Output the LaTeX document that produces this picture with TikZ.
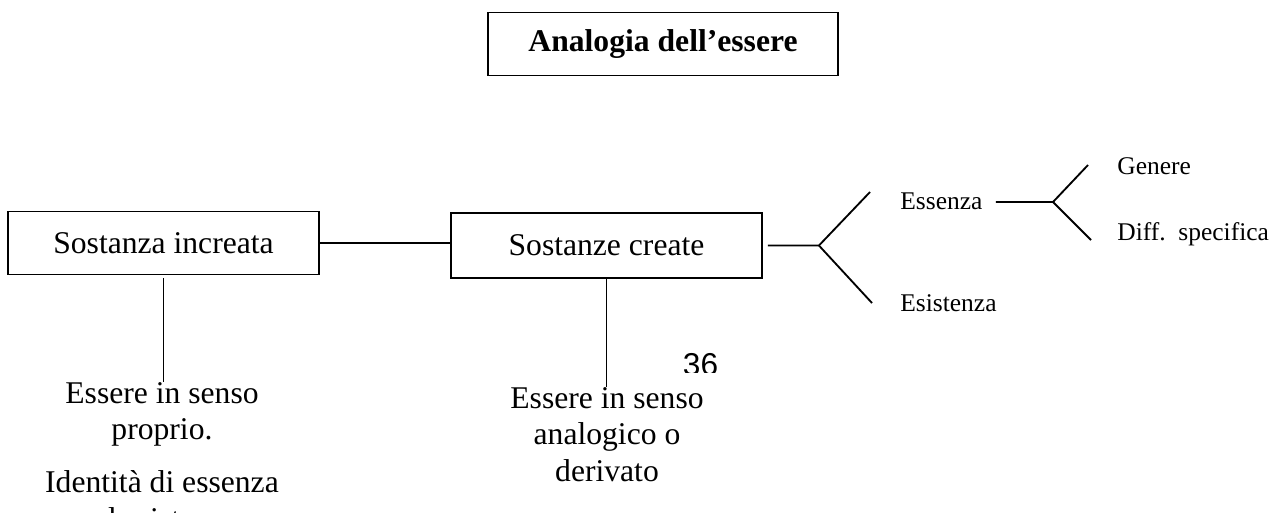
\documentclass[tikz,border=0pt]{standalone}
\usepackage{fontspec}
\setmainfont{Liberation Serif}
\setsansfont{Liberation Sans}
\usepackage{tikz}
\usetikzlibrary{positioning,calc}
\newcommand{\bigtxt}{\fontsize{18}{20.7}\selectfont}
\newcommand{\smalltxt}{\fontsize{14.5}{17}\selectfont}

\begin{document}
\begin{tikzpicture}[
    x=0.02cm, y=-0.02cm,
    box/.style={draw, line width=1.1pt, inner sep=0, minimum width=6.22cm, minimum height=1.26cm, font=\bigtxt},
    lbl/.style={inner sep=0, anchor=base west, font=\smalltxt},
    note/.style={inner sep=0, anchor=north, align=center, font=\bigtxt},
    ln/.style={line width=1.05pt}
  ]
    \useasboundingbox (0,0) rectangle (1287,512);

    \node[box, minimum width=7cm, font=\bigtxt\bfseries] (title) at (663,44) {Analogia dell'essere};

    \node[box] (inc) at (163.5,243) {Sostanza increata};
    \node[box, minimum height=1.3cm] (cre) at (606.5,245.5) {Sostanze create};

    \node[note] (prop) at (162,382) {Essere in senso\\proprio.\\[9.6pt]Identità di essenza\\ed esistenza};
    \node[note] (anal) at (607,387) {Essere in senso\\analogico o\\derivato};

    % first fork
    \coordinate (b1) at ($(cre.east)+(56,0)$);
    \coordinate (e1) at (870,192);
    \coordinate (e2) at (872,303);
    \node[lbl] (ess) at (900,209) {Essenza};
    \node[lbl] (esi) at (900,311) {Esistenza};

    % second fork
    \coordinate (b2) at (1053,202);
    \coordinate (e3) at (1088,165);
    \coordinate (e4) at (1091,240);
    \node[lbl] (gen) at (1117,174) {Genere};
    \node[lbl] (diff) at (1117,240) {Diff.\ \ specifica};

    \draw[ln] (inc.east) -- (inc.east -| cre.west);
    \draw[ln] ($(inc.south)+(0,3)$) -- (inc.south |- prop.north);
    \draw[ln] (cre.south) -- (cre.south |- anal.north);
    \draw[ln] ($(cre.east)+(5,0)$) -- (b1) -- (e1);
    \draw[ln] (b1) -- (e2);
    \draw[ln] ($(ess.east |- b2)+(13,0)$) -- (b2) -- (e3);
    \draw[ln] (b2) -- (e4);

    \begin{scope}
      \clip (650,340) rectangle (760,372);
      \node[inner sep=0, anchor=base, font=\sffamily\fontsize{18}{20}\selectfont] (page) at (700.5,375) {36};
    \end{scope}
\end{tikzpicture}
\end{document}
